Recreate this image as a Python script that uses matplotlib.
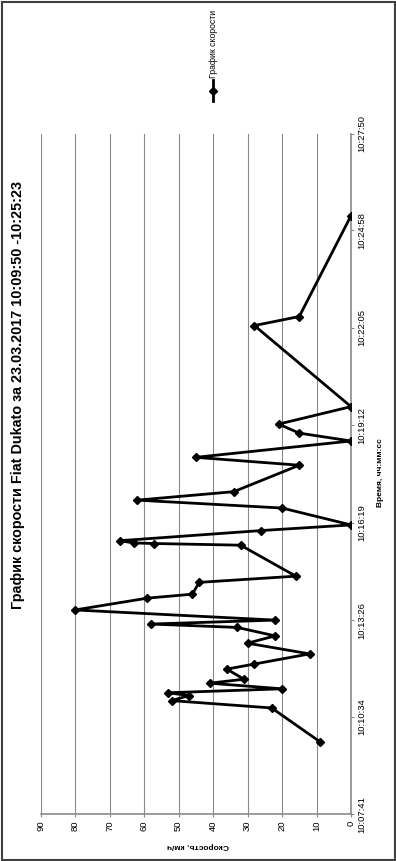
import matplotlib
matplotlib.use("Agg")
import matplotlib.pyplot as plt
from matplotlib.lines import Line2D
from matplotlib.patches import Rectangle
from matplotlib import font_manager

# ---------------- data ----------------
times = ["10:09:50", "10:10:50", "10:11:03", "10:11:12", "10:11:17", "10:11:24",
         "10:11:34", "10:11:41", "10:11:59", "10:12:08", "10:12:26", "10:12:45",
         "10:12:58", "10:13:13", "10:13:19", "10:13:26", "10:13:44", "10:14:05",
         "10:14:12", "10:14:33", "10:14:44", "10:15:39", "10:15:42", "10:15:43",
         "10:15:47", "10:16:05", "10:16:15", "10:16:45", "10:16:59", "10:17:14",
         "10:18:01", "10:18:15", "10:18:44", "10:18:58", "10:19:14", "10:19:45",
         "10:22:09", "10:22:25", "10:25:24"]
speeds = [9, 23, 52, 47, 53, 20, 41, 31, 36, 28, 12, 30,
          22, 33, 58, 22, 80, 59, 46, 44, 16, 32, 57, 63,
          67, 26, 0, 20, 62, 34, 15, 45, 0, 15, 21, 0,
          28, 15, 0]
time_ticks = ["10:07:41", "10:10:34", "10:13:26", "10:16:19",
              "10:19:12", "10:22:05", "10:24:58", "10:27:50"]
speed_ticks = [0, 10, 20, 30, 40, 50, 60, 70, 80, 90]
title = "График скорости Fiat Dukato за 23.03.2017 10:09:50 -10:25:23"
legend_label = "График скорости"
speed_label = "Скорость, км/ч"
time_label = "Время, чч:мм:сс"


def to_sec(s):
    h, m, sec = (int(v) for v in s.split(":"))
    return h * 3600 + m * 60 + sec


t_sec = [to_sec(s) for s in times]
tick_sec = [to_sec(s) for s in time_ticks]

names = {f.name for f in font_manager.fontManager.ttflist}
narrow = "Liberation Sans Narrow" in names
base = ["Liberation Sans", "DejaVu Sans"]
title_family = (["Liberation Sans Narrow"] if narrow else []) + base
title_size = 12.5 if narrow else 10.4

plt.rcParams["font.family"] = base

W, H = 396, 861
fig = plt.figure(figsize=(W / 100, H / 100), dpi=100)
fig.patch.set_facecolor("white")

left, right = 40.5 / W, 351 / W
bottom, top = 1 - 814.4 / H, 1 - 133.5 / H
ax = fig.add_axes([left, bottom, right - left, top - bottom])

ax.plot(speeds, t_sec, color="black", lw=2.0, marker="D", ms=4.2,
        mfc="black", mec="black", zorder=3)

ax.set_xlim(90, 0)
ax.set_ylim(tick_sec[0], tick_sec[-1])

ax.set_xticks(speed_ticks)
ax.set_xticklabels([str(v) for v in speed_ticks], rotation=90, fontsize=6.8)
ax.set_yticks(tick_sec)
ax.set_yticklabels(time_ticks, rotation=90, va="center", fontsize=6.8)
ax.yaxis.tick_right()

ax.grid(axis="x", color="#8a8a8a", lw=0.8)
ax.grid(axis="y", visible=False)
ax.set_axisbelow(True)

for sp in ("top", "left"):
    ax.spines[sp].set_visible(False)
for sp in ("right", "bottom"):
    ax.spines[sp].set_color("#8a8a8a")
    ax.spines[sp].set_linewidth(1.2)
ax.tick_params(axis="both", direction="out", length=2.5, width=0.8,
               color="#8a8a8a", pad=2)

# axis titles
fig.text(198 / W, 1 - 845 / H, speed_label, rotation=180, ha="center",
         va="center", fontsize=6, fontweight="bold")
fig.text(381 / W, 1 - 473 / H, time_label, rotation=90, ha="center",
         va="center", fontsize=6, fontweight="bold")

# chart title
fig.text(18 / W, 1 - 395 / H, title, rotation=90, ha="center", va="center",
         fontsize=title_size, fontweight="bold", family=title_family)

# legend (vertical)
lx = 213 / W
fig.add_artist(Line2D([lx, lx], [1 - 80 / H, 1 - 101 / H], transform=fig.transFigure,
                      color="black", lw=2.0))
fig.add_artist(Line2D([lx], [1 - 90.5 / H], transform=fig.transFigure,
                      color="black", marker="D", ms=4.2, lw=0))
fig.text(lx, 1 - 78 / H, legend_label, rotation=90, ha="center", va="bottom",
         fontsize=6.2)

# outer frame
fig.add_artist(Rectangle((1.5 / W, 1.5 / H), (W - 3) / W, (H - 3) / H,
                         transform=fig.transFigure, fill=False,
                         edgecolor="#404040", lw=1.5))

fig.savefig("out.png", dpi=100, facecolor="white")
